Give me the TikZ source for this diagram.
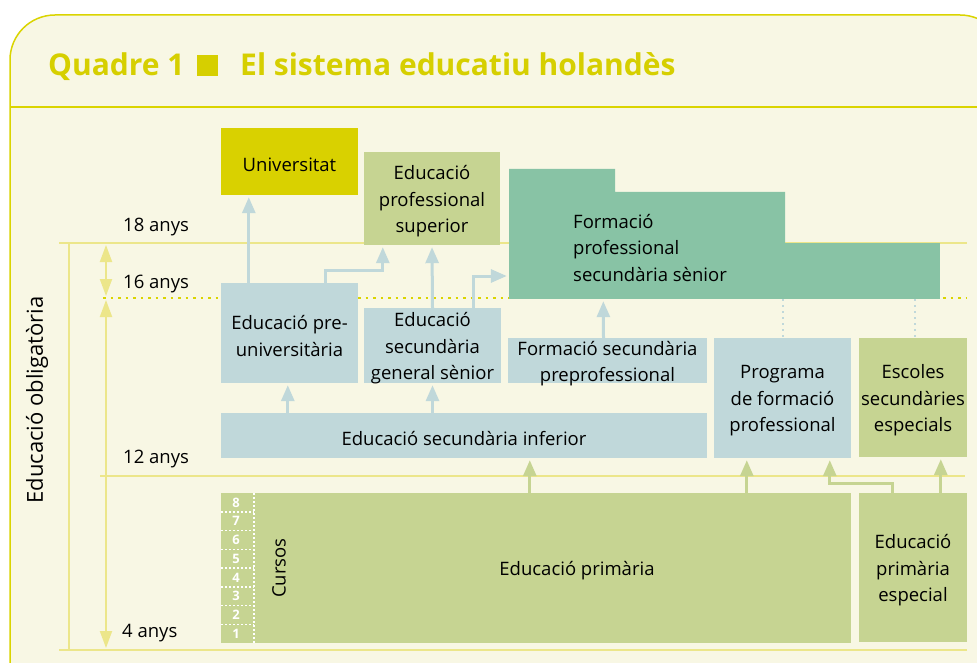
\documentclass[tikz,border=0pt]{standalone}
\usepackage{fontspec}
\setmainfont{Open Sans}
\usetikzlibrary{arrows.meta,positioning,calc}
\definecolor{panelfill}{HTML}{F8F7E4}
\definecolor{rim}{HTML}{DAD400}
\definecolor{ttl}{HTML}{D6CF00}
\definecolor{agecol}{HTML}{ECE68A}
\definecolor{fpscol}{HTML}{88C3A5}
\definecolor{bluecol}{HTML}{C0D8DA}
\definecolor{greencol}{HTML}{C6D492}
\definecolor{unicol}{HTML}{D9D100}
\tikzset{
  box/.style={rectangle, inner sep=0pt},
  lbl/.style={font=\fontsize{18.5}{26.5}\selectfont, align=center, text=black, yshift=-3pt},
  age/.style={font=\fontsize{18.5}{22}\selectfont, anchor=base west, inner sep=0pt},
  tit/.style={font=\fontsize{30}{36}\bfseries\selectfont, text=ttl, anchor=base west, inner sep=0pt},
  yline/.style={agecol, line width=2.5pt},
  ydot/.style={rim, line width=2.5pt, dash pattern=on 2.5pt off 5pt},
  yarrow/.style={draw=agecol, line width=2pt, {Triangle[width=12pt,length=17pt]}-{Triangle[width=12pt,length=17pt]}, shorten <=2pt, shorten >=2pt},
  barrow/.style={draw=bluecol, line width=3pt, -{Triangle[width=13pt,length=16pt]}, shorten >=2pt},
  garrow/.style={draw=greencol, line width=3pt, -{Triangle[width=13pt,length=16pt]}, shorten >=2pt},
  bdot/.style={bluecol, line width=2pt, dash pattern=on 2pt off 4pt},
  wdot/.style={white, line width=1.5pt, dash pattern=on 1.5pt off 2.5pt}
}
\begin{document}
\begin{tikzpicture}[x=1pt,y=-1pt]
\useasboundingbox (0,0) rectangle (977,663);
\fill[white] (0,0) rectangle (977,663);
\begin{scope}
  \clip (0,0) rectangle (977,663);
  \draw[rim, fill=panelfill, line width=1.5pt, rounded corners=45pt] (10,15) rectangle (1005,720);
  \draw[rim, line width=1.5pt] (10,107) -- (977,107);
\end{scope}

% title
\node at (48,76) [tit] (Q) {Quadre 1};
\node at (197,76) [anchor=south west, fill=ttl, minimum size=21, inner sep=0pt] (sq) {};
\node at (240,76) [tit] (T) {El sistema educatiu holandès};

% age rules
\draw[yline] (59,243) -- (967,243);
\draw[yline] (100,476) -- (965,476);
\draw[yline] (59,650) -- (967,650);
\draw[yline] (69,243) -- (69,650);
\draw[ydot] (103,298) -- (967,298);
\coordinate (y18) at (106,243);
\coordinate (y16) at (106,298);
\coordinate (y4) at (106,650);
\draw[yarrow] (y18) -- (y16);
\draw[yarrow] (y16) -- (y4);

\node at (123,232) [age] (a18) {18 anys};
\node at (123,288) [age] (a16) {16 anys};
\node at (123,463) [age] (a12) {12 anys};
\node at (122,637) [age] (a4) {4 anys};
\node at (37,400) [rotate=90, font=\fontsize{22}{26}\selectfont] (EO) {Educació obligatòria};

% boxes
\node at (289.5,161.5) [box, fill=unicol, minimum width=137, minimum height=67, label={[lbl]center:Universitat}] (U) {};
\node at (432,198.5) [box, fill=greencol, minimum width=136, minimum height=93, label={[lbl]center:{Educació\\professional\\superior}}] (EPS) {};
\fill[fpscol] (509,169) -- (615,169) -- (615,192) -- (785,192) -- (785,245) -- (509,245) -- cycle;
\node at (724.5,271) [box, fill=fpscol, minimum width=431, minimum height=56] (FPS) {};
\node at (573,245) [lbl, align=left, anchor=west, inner sep=0pt] (FPSt) {Formació\\professional\\secundària sènior};
\node at (289.5,333) [box, fill=bluecol, minimum width=137, minimum height=100, label={[lbl]center:{Educació pre-\\universitària}}] (PU) {};
\node at (432.5,345.5) [box, fill=bluecol, minimum width=137, minimum height=75, label={[lbl]center:{Educació\\secundària\\general sènior}}] (ESG) {};
\node at (607.5,360.5) [box, fill=bluecol, minimum width=199, minimum height=45, label={[lbl]center:{Formació secundària\\preprofessional}}] (FSP) {};
\node at (464,435.5) [box, fill=bluecol, minimum width=486, minimum height=45, label={[lbl]center:Educació secundària inferior}] (ESI) {};
\node at (782.5,398) [box, fill=bluecol, minimum width=137, minimum height=120, label={[lbl]center:{Programa\\de formació\\professional}}] (PFP) {};
\node at (913,397.5) [box, fill=greencol, minimum width=108, minimum height=119, label={[lbl]center:{Escoles\\secundàries\\especials}}] (ESE) {};
\node at (536,568) [box, fill=greencol, minimum width=630, minimum height=150, label={[lbl,xshift=41pt]center:Educació primària}] (EP) {};
\node at (913,567.5) [box, fill=greencol, minimum width=108, minimum height=149, label={[lbl]center:{Educació\\primària\\especial}}] (EPE) {};

% courses strip
\foreach \k in {1,...,7}
  \draw[wdot] (221,{493+18.75*\k}) -- (254,{493+18.75*\k});
\draw[wdot] (254,493) -- (254,643);
\foreach \n in {1,...,8}
  \node at (236,{643-18.75*\n+9.4}) [text=white, font=\fontsize{13}{13}\bfseries\selectfont, inner sep=0pt] (c\n) {\n};
\node at (279,565) [lbl, rotate=90] (cur) {Cursos};

% connectors
\draw[barrow] ([xshift=28]PU.north west) -- ([xshift=28]U.south west);
\draw[barrow] ([xshift=105]PU.north west) -- ++(0,-12) -| ([xshift=19]EPS.south west);
\draw[barrow] (ESG.north) -- (EPS.south);
\draw[barrow] ([xshift=-28]ESG.north east) |- ([yshift=-5]FPS.west);
\draw[barrow] ([xshift=-4]FSP.north) -- ([xshift=94.5]FPS.south west);
\draw[barrow] ([xshift=67]ESI.north west) -- ([xshift=67]PU.south west);
\draw[barrow] (ESI.north -| ESG.south) -- (ESG.south);
\draw[bdot] (FPS.south -| PFP.north) -- (PFP.north);
\draw[bdot] ([xshift=2]FPS.south -| ESE.north) -- ([xshift=2]ESE.north);
\draw[garrow] ([xshift=309]EP.north west) -- ([xshift=309]ESI.south west);
\draw[garrow] ([xshift=526]EP.north west) -- ([xshift=33]PFP.south west);
\draw[garrow] ([xshift=34]EPE.north west) -- ++(0,-9) -| ([xshift=116]PFP.south west);
\draw[garrow] ([xshift=82]EPE.north west) -- ([xshift=82]ESE.south west);
\end{tikzpicture}
\end{document}
